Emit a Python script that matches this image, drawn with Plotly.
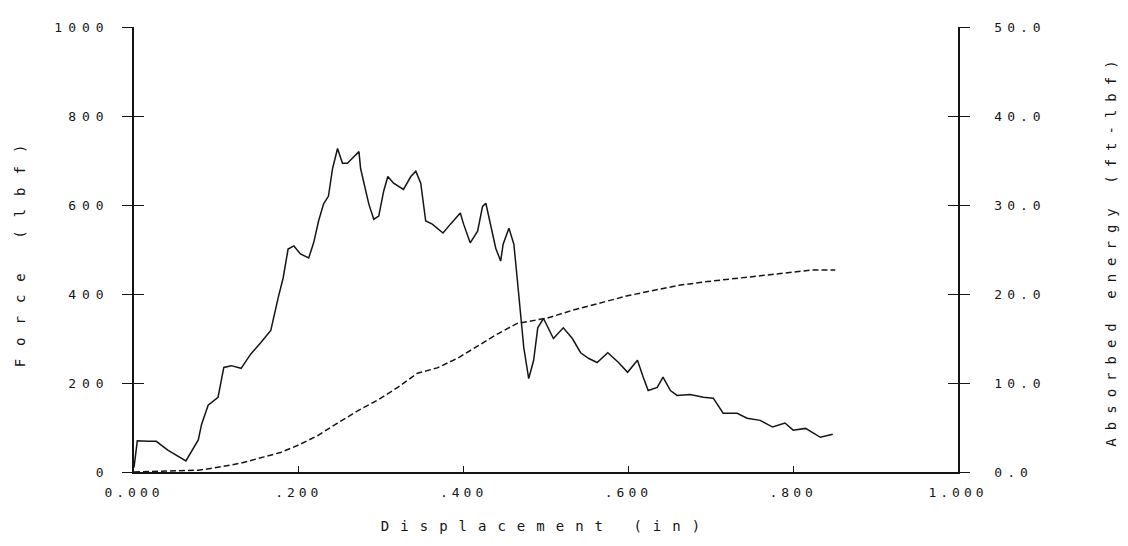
import plotly.graph_objects as go

# Force vs displacement
disp_force = [0.000, 0.004, 0.017, 0.027, 0.041, 0.063, 0.078, 0.082, 0.090, 0.102,
              0.109, 0.118, 0.130, 0.142, 0.154, 0.166, 0.175, 0.181, 0.187, 0.194,
              0.202, 0.212, 0.218, 0.224, 0.230, 0.236, 0.241, 0.247, 0.253, 0.259,
              0.265, 0.273, 0.275, 0.281, 0.285, 0.291, 0.297, 0.303, 0.308, 0.315,
              0.327, 0.336, 0.342, 0.348, 0.352, 0.354, 0.362, 0.375, 0.384, 0.396,
              0.400, 0.408, 0.417, 0.423, 0.427, 0.433, 0.439, 0.445, 0.448, 0.455,
              0.461, 0.465, 0.469, 0.473, 0.479, 0.485, 0.490, 0.497, 0.509, 0.521,
              0.532, 0.542, 0.552, 0.562, 0.575, 0.588, 0.599, 0.611, 0.618, 0.624,
              0.635, 0.642, 0.651, 0.659, 0.675, 0.691, 0.703, 0.715, 0.732, 0.744,
              0.760, 0.775, 0.790, 0.800, 0.815, 0.833, 0.848]
force_lbf = [10, 70, 69, 69, 49, 25, 72, 107, 150, 168,
             235, 239, 233, 266, 291, 318, 392, 436, 501, 508,
             490, 481, 515, 564, 602, 620, 682, 727, 694, 694,
             705, 720, 682, 631, 602, 568, 575, 631, 664, 649,
             635, 664, 676, 649, 593, 564, 557, 537, 557, 582,
             557, 515, 541, 597, 604, 557, 503, 474, 512, 548,
             512, 436, 356, 280, 210, 251, 324, 345, 300, 324,
             300, 268, 255, 246, 268, 246, 224, 251, 213, 183,
             190, 213, 183, 172, 174, 168, 166, 132, 132, 121,
             116, 101, 110, 94, 98, 78, 85]

# Absorbed energy vs displacement
disp_energy = [0.000, 0.021, 0.078, 0.097, 0.118, 0.130, 0.158, 0.178, 0.199, 0.223,
               0.247, 0.272, 0.296, 0.320, 0.344, 0.368, 0.393, 0.417, 0.441, 0.465,
               0.502, 0.533, 0.566, 0.599, 0.630, 0.663, 0.696, 0.727, 0.760, 0.793,
               0.824, 0.851]
energy_ftlbf = [0.0, 0.05, 0.2, 0.45, 0.8, 1.0, 1.7, 2.2, 3.0, 4.1,
                5.5, 6.9, 8.1, 9.5, 11.1, 11.7, 12.8, 14.2, 15.5, 16.7,
                17.3, 18.2, 19.0, 19.8, 20.4, 21.0, 21.4, 21.7, 22.0, 22.4,
                22.7, 22.7]

x_tickvals = [0, 0.2, 0.4, 0.6, 0.8, 1.0]
x_ticktext = ["0.000", ".200", ".400", ".600", ".800", "1.000"]
y_tickvals = [0, 200, 400, 600, 800, 1000]
y_ticktext = ["0", "200", "400", "600", "800", "1000"]
y2_tickvals = [0, 10, 20, 30, 40, 50]
y2_ticktext = ["0.0", "10.0", "20.0", "30.0", "40.0", "50.0"]

FONT = "DejaVu Sans Mono"
INK = "#151515"


def spaced(s, sp):
    return f"<span style='letter-spacing:{sp}px'>{s}</span>"


fig = go.Figure()
fig.add_trace(go.Scatter(x=disp_force, y=force_lbf, mode="lines",
                         line=dict(color=INK, width=1.5), yaxis="y", showlegend=False))
fig.add_trace(go.Scatter(x=disp_energy, y=energy_ftlbf, mode="lines",
                         line=dict(color=INK, width=1.5, dash="6px,3px"), yaxis="y2",
                         showlegend=False))

common = dict(showgrid=False, zeroline=False, linecolor=INK, tickcolor=INK, automargin=False,
              tickfont=dict(family=FONT, size=13, color=INK))

fig.update_layout(
    width=1112, height=530,
    margin=dict(l=126, r=162, t=19, b=66),
    paper_bgcolor="white", plot_bgcolor="white",
    font=dict(family=FONT, color=INK),
    xaxis=dict(range=[0, 1], tickvals=x_tickvals,
               ticktext=[spaced(t, 4) for t in x_ticktext],
               ticks="inside", ticklen=6, tickwidth=1.2, showline=True, linewidth=1.5,
               ticklabelstandoff=8,
               title=dict(text=spaced("Displacement (in)", 11),
                          font=dict(family=FONT, size=14, color=INK), standoff=22),
               **common),
    yaxis=dict(range=[0, 1000], tickvals=y_tickvals,
               ticktext=[spaced(t, 6) for t in y_ticktext],
               ticks="outside", ticklen=10, tickwidth=1.2, showline=True, linewidth=1.5,
               ticklabelstandoff=10,
               title=dict(text=spaced("Force (lbf)", 13),
                          font=dict(family=FONT, size=14, color=INK), standoff=25),
               **common),
    yaxis3=dict(range=[0, 1000], overlaying="y", side="left", anchor="x",
                tickvals=y_tickvals, ticks="inside", ticklen=10, tickwidth=1.2,
                showticklabels=False, showline=False, **common),
    yaxis2=dict(range=[0, 50], overlaying="y", side="right", anchor="x",
                tickvals=y2_tickvals, ticktext=[spaced(t, 5) for t in y2_ticktext],
                ticks="outside", ticklen=10, tickwidth=1.2, showline=True, linewidth=1.5,
                ticklabelstandoff=22,
                title=dict(text=spaced("Absorbed energy (ft-lbf)", 8),
                           font=dict(family=FONT, size=14, color=INK), standoff=62),
                **common),
    yaxis4=dict(range=[0, 50], overlaying="y", side="right", anchor="x",
                tickvals=y2_tickvals, ticks="inside", ticklen=10, tickwidth=1.2,
                showticklabels=False, showline=False, **common),
)

# invisible traces to register the tick-only duplicate axes
fig.add_trace(go.Scatter(x=[None], y=[None], yaxis="y3", showlegend=False, hoverinfo="skip"))
fig.add_trace(go.Scatter(x=[None], y=[None], yaxis="y4", showlegend=False, hoverinfo="skip"))

fig.write_html("out.html")
